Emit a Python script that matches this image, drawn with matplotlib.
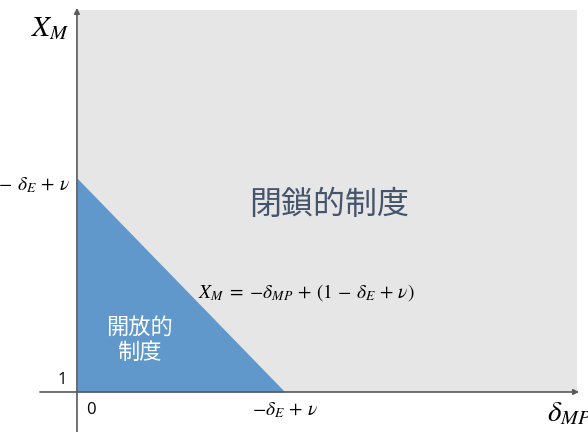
import numpy as np
import matplotlib
matplotlib.use("Agg")
import matplotlib.pyplot as plt

plt.rcParams['font.family'] = ['Noto Sans CJK JP', 'DejaVu Sans']
plt.rcParams['mathtext.fontset'] = 'stix'

# boundary line X_M = -d_MP + (1 - d_E + v), intercepts scaled to 1
x_intercept = 1.0
y_intercept = 1.0
x_max = 2.404   # extent of the closed region
y_max = 1.785

region_labels = ["閉鎖的制度", "開放的\n制度"]
equation = r"$X_M\;=\;{-}\delta_{MP}\,+\,(1\,-\,\delta_E\,+\,\nu)$"
x_ticks = ["0", r"${-}\delta_E\,+\,\nu$"]
y_ticks = ["1", r"$1\,-\,\delta_E\,+\,\nu$"]

gray = "#e6e6e6"
blue = "#6198cb"
axis_col = "#595959"

fig = plt.figure(figsize=(5.88, 4.32), dpi=100)
ax = fig.add_axes([0, 0, 1, 1])
ax.set_xlim(-0.370, 2.457)
ax.set_ylim(-0.187, 1.832)
ax.axis('off')

# closed region (background)
ax.fill_between([0, x_max], 0, y_max, color=gray, lw=0, zorder=1)

# open region (triangle under the boundary line)
xs = np.array([0, x_intercept])
ys = y_intercept - xs * (y_intercept / x_intercept)
ax.fill_between(xs, 0, ys, color=blue, lw=0, zorder=2)

# axes with arrows
ax.annotate("", xy=(x_max + 0.01, 0), xytext=(-0.178, 0),
            arrowprops=dict(arrowstyle="-|>", color=axis_col, lw=1.2,
                            mutation_scale=8, shrinkA=0, shrinkB=0), zorder=3)
ax.annotate("", xy=(0, y_max + 0.01), xytext=(0, -0.19),
            arrowprops=dict(arrowstyle="-|>", color=axis_col, lw=1.2,
                            mutation_scale=8, shrinkA=0, shrinkB=0), zorder=3)

# axis titles (the reference cuts these at the figure edges)
ax.text(-0.13, 1.70, r"$X_M$", fontsize=21, ha='center', va='center', color='black')
ax.text(2.262, -0.10, r"$\delta_{MP}$", fontsize=21, ha='left', va='center', color='black')

# tick labels
ax.text(0.043, -0.085, x_ticks[0], fontsize=12, ha='left', va='center',
        family=['Open Sans', 'DejaVu Sans'])
ax.text(x_intercept, -0.085, x_ticks[1], fontsize=14, ha='center', va='center')
ax.text(-0.05, 0.057, y_ticks[0], fontsize=12, ha='right', va='center',
        family=['Open Sans', 'DejaVu Sans'])
ax.text(-0.034, y_intercept - 0.03, y_ticks[1], fontsize=14, ha='right', va='center')

# region labels and equation
ax.text(1.21, 0.874, region_labels[0], fontsize=23, ha='center', va='center', color='#44546a')
ax.text(0.298, 0.243, region_labels[1], fontsize=16, ha='center', va='center',
        color='white', linespacing=1.15)
ax.text(1.105, 0.467, equation, fontsize=14, ha='center', va='center', color='black')

fig.savefig("out.png", dpi=100)
